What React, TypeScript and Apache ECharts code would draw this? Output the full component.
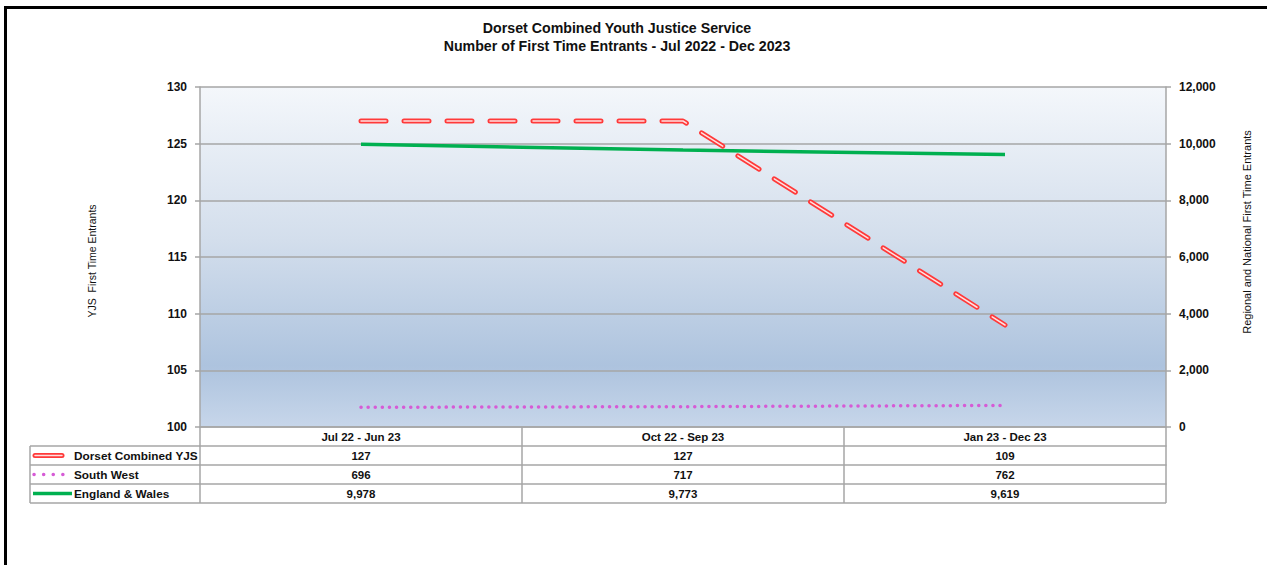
import React, { useEffect, useRef } from 'react';
import * as echarts from 'echarts';

const titleLines = ['Dorset Combined Youth Justice Service', 'Number of First Time Entrants - Jul 2022 - Dec 2023'];
const categories = ['Jul 22 - Jun 23', 'Oct 22 - Sep 23', 'Jan 23 - Dec 23'];
const seriesNames = ['Dorset Combined YJS', 'South West', 'England & Wales'];
const dorset = [127, 127, 109];
const southWest = [696, 717, 762];
const englandWales = [9978, 9773, 9619];
const leftTicks = { min: 100, max: 130, interval: 5 };
const rightTicks = { min: 0, max: 12000, interval: 2000 };
const leftTitle = 'YJS  First Time Entrants';
const rightTitle = 'Regional and National First Time Entrants';

const W = 1267;
const H = 565;
const GL = 200;
const GR = 1166;
const GT = 87;
const GB = 427;
const ROW = 19;
const FONT = '"Liberation Sans", Arial, sans-serif';
const GREY = '#a6a6a6';
const RED = '#ff3a3a';
const RED_IN = '#ffe0e0';
const PINK = '#d65bd6';
const GREEN = '#00b050';

const fmt = (v: number) => v.toLocaleString('en-US');

export default function App() {
  const ref = useRef<HTMLDivElement>(null);
  useEffect(() => {
    if (!ref.current) return;
    const chart = echarts.init(ref.current, undefined, { renderer: 'svg' });

    const rows: number[][] = [dorset, southWest, englandWales];
    const baseX = (offset: number, formatter: (v: string, i: number) => string) => ({
      type: 'category',
      gridIndex: 0,
      position: 'bottom',
      offset,
      boundaryGap: true,
      data: categories,
      axisLine: { show: true, onZero: false, lineStyle: { color: GREY, width: 1.5 } },
      axisTick: { show: true, interval: 0, length: ROW, lineStyle: { color: GREY, width: 1.5 } },
      axisLabel: {
        interval: 0,
        margin: 4,
        fontSize: 11.5,
        fontWeight: 'bold',
        color: '#111',
        fontFamily: FONT,
        formatter,
      },
      splitLine: { show: false },
    });

    const xAxes = [
      baseX(0, (v: string) => v),
      ...rows.map((r, k) => baseX(ROW * (k + 1), (_v: string, i: number) => fmt(r[i]))),
    ];

    const line = (x1: number, y1: number, x2: number, y2: number, color: string, width: number, extra: any = {}) => ({
      type: 'line',
      silent: true,
      shape: { x1, y1, x2, y2 },
      style: { stroke: color, lineWidth: width, ...extra },
    });

    const txt = (x: number, y: number, text: string, size: number, weight: string, align: string, extra: any = {}) => ({
      type: 'text',
      silent: true,
      x,
      y,
      ...extra,
      style: {
        text,
        font: `${weight} ${size}px ${FONT}`,
        fill: '#111',
        align,
        verticalAlign: 'middle',
      },
    });

    const legendY = (k: number) => GB + ROW * (k + 1) + ROW / 2;

    const graphic: any[] = [
      // outer frame
      line(4, 7.5, W, 7.5, '#000', 3),
      line(5.5, 6, 5.5, H, '#000', 3),
      // title
      txt(617, 28, titleLines[0], 14.2, 'bold', 'center'),
      txt(617, 46, titleLines[1], 14.2, 'bold', 'center'),
      // axis titles
      txt(92, 261, leftTitle, 10.5, 'normal', 'center', { rotation: Math.PI / 2 }),
      txt(1247, 232, rightTitle, 11, 'normal', 'center', { rotation: Math.PI / 2 }),
      // legend box lines
      line(30, GB + ROW, 30, GB + ROW * 4, GREY, 1.5),
      line(30, GB + ROW, GL, GB + ROW, GREY, 1.5),
      line(30, GB + ROW * 2, GL, GB + ROW * 2, GREY, 1.5),
      line(30, GB + ROW * 3, GL, GB + ROW * 3, GREY, 1.5),
      line(30, GB + ROW * 4, GR, GB + ROW * 4, GREY, 1.5),
      // legend swatches
      line(35, legendY(0), 62, legendY(0), RED, 5, { lineCap: 'round' }),
      line(35, legendY(0), 62, legendY(0), RED_IN, 1.5, { lineCap: 'round' }),
      line(34, legendY(1), 66, legendY(1), PINK, 3.5, { lineCap: 'round', lineDash: [0.1, 9.5] }),
      line(33, legendY(2), 72, legendY(2), GREEN, 3.5),
      ...seriesNames.map((n, k) => txt(74, legendY(k), n, 11.8, 'bold', 'left')),
    ];

    const option: any = {
      animation: false,
      backgroundColor: '#ffffff',
      grid: {
        left: GL,
        right: W - GR,
        top: GT,
        bottom: H - GB,
        show: true,
        borderWidth: 0,
        backgroundColor: new echarts.graphic.LinearGradient(0, 0, 0, 1, [
          { offset: 0, color: '#f4f7fb' },
          { offset: 0.45, color: '#d3deec' },
          { offset: 0.82, color: '#adc3de' },
          { offset: 1, color: '#c7d6ea' },
        ]),
      },
      xAxis: xAxes,
      yAxis: [
        {
          type: 'value',
          position: 'left',
          ...leftTicks,
          axisLine: { show: true, lineStyle: { color: GREY, width: 1.5 } },
          axisTick: { show: true, length: 5, lineStyle: { color: GREY, width: 1.5 } },
          axisLabel: { margin: 13, fontSize: 12, fontWeight: 'bold', color: '#111', fontFamily: FONT },
          splitLine: { show: true, lineStyle: { color: GREY, width: 1.5 } },
        },
        {
          type: 'value',
          position: 'right',
          ...rightTicks,
          axisLine: { show: true, lineStyle: { color: GREY, width: 1.5 } },
          axisTick: { show: true, length: 5, lineStyle: { color: GREY, width: 1.5 } },
          axisLabel: {
            margin: 13,
            fontSize: 12,
            fontWeight: 'bold',
            color: '#111',
            fontFamily: FONT,
            formatter: (v: number) => fmt(v),
          },
          splitLine: { show: false },
        },
      ],
      series: [
        {
          name: seriesNames[2],
          type: 'line',
          xAxisIndex: 0,
          yAxisIndex: 1,
          data: englandWales,
          symbol: 'none',
          z: 3,
          lineStyle: { color: GREEN, width: 3.5 },
        },
        {
          name: seriesNames[1],
          type: 'line',
          xAxisIndex: 0,
          yAxisIndex: 1,
          data: southWest,
          symbol: 'none',
          z: 3,
          lineStyle: { color: PINK, width: 3.5, type: [0.1, 7], cap: 'round' },
        },
        {
          name: seriesNames[0],
          type: 'line',
          xAxisIndex: 0,
          yAxisIndex: 0,
          data: dorset,
          symbol: 'none',
          z: 4,
          lineStyle: { color: RED, width: 5, type: [25, 18], cap: 'round' },
        },
        {
          name: seriesNames[0] + ' (inner)',
          type: 'line',
          xAxisIndex: 0,
          yAxisIndex: 0,
          data: dorset,
          symbol: 'none',
          z: 5,
          lineStyle: { color: RED_IN, width: 1.5, type: [25, 18], cap: 'round' },
        },
      ],
      graphic,
    };

    chart.setOption(option);
    return () => chart.dispose();
  }, []);

  return (
    <div
      ref={ref}
      style={{ position: 'absolute', left: 0, top: 0, width: W, height: H, background: '#fff' }}
    />
  );
}
